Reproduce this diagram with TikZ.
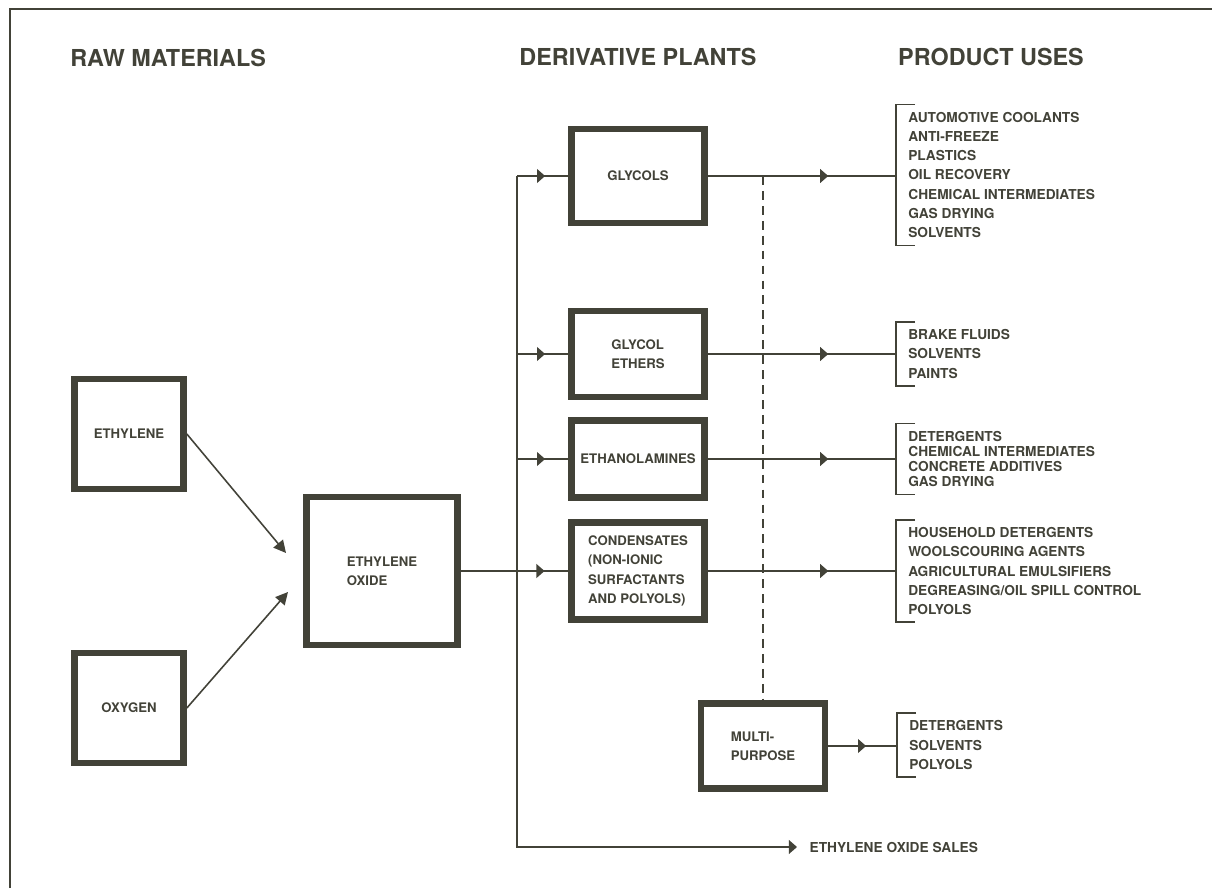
\documentclass[tikz,border=0pt]{standalone}
\usepackage{fontspec}
\setmainfont{TeX Gyre Heros}
\definecolor{inkgray}{RGB}{66,66,56}
\usetikzlibrary{arrows.meta,calc,decorations.markings}

\begin{document}
\begin{tikzpicture}[
  x=0.02cm, y=-0.02cm, color=inkgray,
  hdr/.style={inner sep=0pt, font=\fontsize{13.3}{16}\selectfont\bfseries},
  plant/.style={draw, line width=3.8pt, align=left, font=\fontsize{7.5}{11}\selectfont\bfseries},
  uses/.style={anchor=west, align=left, inner xsep=6.8pt, inner ysep=4pt, font=\fontsize{7.8}{11}\selectfont\bfseries},
  flow/.style={line width=0.9pt},
  midarrow/.style={postaction={decorate}, decoration={markings, mark=at position #1 with {\arrow{Triangle[length=4.6pt,width=7.8pt]}}}}
]
  \useasboundingbox (0,0) rectangle (1212,888);

  %% Frame
  \draw[line width=1.2pt] (10,888) -- (10,9) -- (1212,9);

  %% Column headers
  \node[hdr, anchor=west] (hRaw) at (70,58) {RAW MATERIALS};
  \node[hdr] (hDer) at (638,57) {DERIVATIVE PLANTS};
  \node[hdr] (hUse) at (991,57) {PRODUCT USES};

  %% Raw materials
  \node[plant, minimum width=2.18cm, minimum height=2.2cm] (eth) at (129,434) {ETHYLENE};
  \node[plant, minimum width=2.18cm, minimum height=2.2cm] (oxy) at (129,708) {OXYGEN};
  \node[plant, minimum width=3.02cm, minimum height=2.96cm] (eo) at (382,571) {ETHYLENE\\OXIDE};

  %% Derivative plants
  \node[plant, minimum width=2.66cm, minimum height=1.88cm] (gly) at (638,176) {GLYCOLS};
  \node[plant, minimum width=2.66cm, minimum height=1.72cm] (ge) at (638,354) {GLYCOL\\ETHERS};
  \node[plant, minimum width=2.66cm, minimum height=1.54cm] (ami) at (638,459) {ETHANOLAMINES};
  \node[plant, minimum width=2.66cm, minimum height=1.94cm] (con) at (638,571) {CONDENSATES\\(NON-IONIC\\SURFACTANTS\\AND POLYOLS)};
  \node[plant, minimum width=2.48cm, minimum height=1.70cm] (mul) at (763,746) {MULTI-\\PURPOSE};

  %% Product uses
  \node[uses] (uGly) at (896,175) {AUTOMOTIVE COOLANTS\\ANTI-FREEZE\\PLASTICS\\OIL RECOVERY\\CHEMICAL INTERMEDIATES\\GAS DRYING\\SOLVENTS};
  \node[uses] (uGe) at (896,354) {BRAKE FLUIDS\\SOLVENTS\\PAINTS};
  \node[uses, font=\fontsize{7.8}{8.7}\selectfont\bfseries] (uAmi) at (896,459) {DETERGENTS\\CHEMICAL INTERMEDIATES\\CONCRETE ADDITIVES\\GAS DRYING};
  \node[uses] (uCon) at (896,571) {HOUSEHOLD DETERGENTS\\WOOLSCOURING AGENTS\\AGRICULTURAL EMULSIFIERS\\DEGREASING/OIL SPILL CONTROL\\POLYOLS};
  \node[uses] (uMul) at (897,745) {DETERGENTS\\SOLVENTS\\POLYOLS};
  \node[uses, inner xsep=7pt] (sales) at (797,847) {ETHYLENE OXIDE SALES};

  \foreach \u in {uGly,uGe,uAmi,uCon,uMul}
    \draw[flow] (\u.north west) ++(19,0) -- (\u.north west) -- (\u.south west) -- ++(19,0);

  %% Raw materials into ethylene oxide
  \coordinate (inTop) at (286,553);
  \coordinate (inBot) at (288,592);
  \draw[flow, -{Triangle[length=7pt,width=7pt]}] (eth.east) -- (inTop);
  \draw[flow, -{Triangle[length=7pt,width=7pt]}] (oxy.east) -- (inBot);

  %% Distribution line
  \coordinate (busTop) at (517,176);
  \coordinate (busBot) at (517,847);
  \draw[flow, -{Triangle[length=4.6pt,width=7.8pt]}] (busTop) -- (busBot) -- (sales.west);
  \foreach \p in {gly,ge,ami}
    \draw[flow, midarrow=0.55] (\p.west -| busTop) -- (\p.west);
  \draw[flow, midarrow=0.78] (eo.east |- con.west) -- (con.west);

  %% Plants to uses
  \foreach \p/\u in {gly/uGly,ge/uGe,ami/uAmi,con/uCon}
    \draw[flow, midarrow=0.64] (\p.east) -- (\p.east -| \u.west);
  \draw[flow, midarrow=0.55] (mul.east) -- (mul.east -| uMul.west);
  \draw[line width=0.7pt, dash pattern=on 5pt off 3.5pt] (mul.north |- gly.east) -- (mul.north);
\end{tikzpicture}
\end{document}
